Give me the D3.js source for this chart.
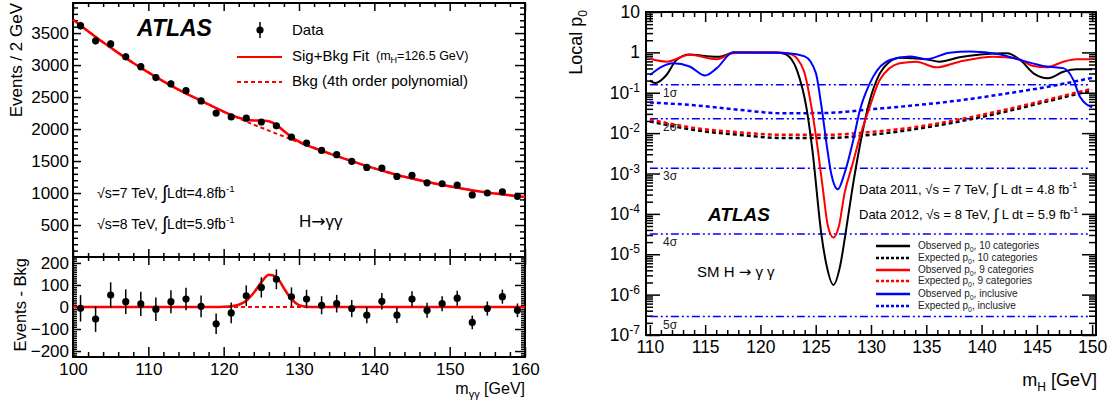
<!DOCTYPE html>
<html lang="en">
<head>
<meta charset="utf-8" />
<title>ATLAS H to diphoton: mass spectrum and local p0</title>
<script src="https://d3js.org/d3.v7.min.js"></script>
<style>
  body { margin: 0; background: #fff; }
  svg { display: block; font-family: "Liberation Sans", Arial, Helvetica, sans-serif; }
  .frame { fill: none; stroke: #000; stroke-width: 2px; }
  .tick line { stroke-width: 1.5px; }
</style>
</head>
<body>
<svg id="chart" width="1112" height="405"></svg>
<script>
// ------------------------------------------------------------
// data: left panel (events / 2 GeV)
// ------------------------------------------------------------
const massBins = [101, 103, 105, 107, 109, 111, 113, 115, 117, 119, 121, 123, 125, 127, 129,
                  131, 133, 135, 137, 139, 141, 143, 145, 147, 149, 151, 153, 155, 157, 159];
const events = [3615, 3380, 3330, 3130, 2975, 2805, 2705, 2600, 2440, 2250, 2190, 2170, 2110, 2050, 1875,
                1780, 1665, 1600, 1495, 1400, 1390, 1260, 1275, 1160, 1145, 1125, 970, 1000, 1020, 948];
const eventErr = [60, 58, 58, 56, 55, 53, 52, 51, 49, 47, 47, 47, 46, 45, 43,
                  42, 41, 40, 39, 37, 37, 36, 36, 34, 34, 34, 31, 32, 32, 31];
const residual = [-6, -55, 54, 24, 14, -10, 24, 36, 3, -76, -27, 51, 89, 126, 46,
                  36, 8, 15, -7, -37, 26, -37, 36, -15, 15, 40, -70, -7, 47, -15];

const fitMass = [100, 102, 104, 106, 108, 110, 112, 114, 116,
                 118, 119, 120, 121, 122, 123, 124, 125, 126, 127, 128, 129, 130, 131, 132, 133, 134,
                 136, 138, 140, 142, 144, 146, 148, 150, 152, 154, 156, 158, 160];
const bkgFit = [3710, 3530, 3355, 3190, 3032, 2885, 2746, 2617, 2497,
                2385, 2327, 2270, 2218, 2167, 2117, 2068, 2021, 1975, 1929, 1883, 1838, 1793, 1748, 1704, 1661, 1619,
                1537, 1460, 1386, 1317, 1253, 1200, 1150, 1105, 1062, 1025, 993, 964, 938];
const sigFit = [0, 0, 0, 0, 0, 0, 0, 0, 0,
                0, 0, 1, 3, 10, 28, 65, 112, 146, 136, 85, 36, 9, 1, 0, 0, 0,
                0, 0, 0, 0, 0, 0, 0, 0, 0, 0, 0, 0, 0];

// ------------------------------------------------------------
// data: right panel (local p0 vs m_H)
// ------------------------------------------------------------
const obs10Mass = [110, 110.5, 111.5, 112.4, 113.6, 115, 116.3, 117.6, 121.5, 122.3, 123.3, 124.2, 124.7,
                   125.5, 126, 126.6, 127.2, 127.7, 128.3, 129, 129.9, 130.8, 131.6, 132.6, 135, 136.2,
                   138, 139.9, 142.3, 143.5, 144.7, 146, 147.4, 148.6, 150];
const obs10P = [0.20, 0.174, 0.275, 0.646, 0.891, 0.813, 0.776, 1.0, 1.0, 0.89, 0.363, 0.037, 0.0038,
                3.3e-5, 5.0e-6, 1.74e-6, 5.0e-6, 3.3e-5, 3.98e-4, 0.005, 0.066, 0.302, 0.562, 0.741, 0.676, 0.589,
                0.759, 0.891, 0.955, 0.646, 0.302, 0.229, 0.331, 0.38, 0.38];

const obs9Mass = [110, 111.5, 113.6, 116.05, 117.5, 119, 121.8, 122.8, 123.9, 124.8, 125.2, 125.7, 126.1,
                  126.6, 127.1, 127.6, 128.3, 129, 129.9, 130.8, 132.6, 134.1, 135.9, 138, 141.1, 143.2,
                  144.7, 145.9, 147.4, 148.6, 150];
const obs9P = [0.692, 0.589, 0.871, 0.676, 0.955, 1.0, 1.0, 0.89, 0.363, 0.0214, 0.0038, 3.16e-4, 5.0e-5,
               2.6e-5, 5.0e-5, 3.16e-4, 0.00158, 0.00813, 0.0457, 0.209, 0.537, 0.589, 0.427, 0.589, 0.776, 0.708,
               0.457, 0.427, 0.589, 0.676, 0.676];

const obsIncMass = [110, 112.1, 113.6, 115, 116.05, 117.55, 122.5, 124, 125, 125.5, 126, 126.4, 127,
                    127.6, 128.4, 129, 129.6, 130.2, 131.7, 133.5, 135, 137.1, 138.95, 141.7, 143.5,
                    145.9, 147.4, 148.3, 148.9, 150];
const obsIncP = [0.275, 0.537, 0.447, 0.269, 0.407, 1.0, 0.955, 0.794, 0.316, 0.05, 0.005, 0.001, 4.07e-4,
                 0.001, 0.00676, 0.0372, 0.112, 0.251, 0.646, 0.794, 0.676, 0.98, 1.05, 0.891, 0.646,
                 0.447, 0.407, 0.209, 0.0794, 0.0437];

const expMass = [110, 114, 118, 122, 126, 130, 134, 138, 142, 146, 150];
const exp10P = [0.0195, 0.0120, 0.0091, 0.0076, 0.0076, 0.0091, 0.0126, 0.0195, 0.0331, 0.0617, 0.115];
const exp9P = [0.0219, 0.0135, 0.0105, 0.0091, 0.0091, 0.0107, 0.0141, 0.0219, 0.0372, 0.0676, 0.126];
const expIncP = [0.0575, 0.049, 0.038, 0.031, 0.0316, 0.0389, 0.049, 0.0646, 0.0933, 0.141, 0.234];

const sigmaP = [0.1587, 0.02275, 1.35e-3, 3.17e-5, 2.87e-7];
const sigmaLabels = ["1σ", "2σ", "3σ", "4σ", "5σ"];

// ------------------------------------------------------------
// setup
// ------------------------------------------------------------
const FONT = '"Liberation Sans", Arial, Helvetica, sans-serif';
const svg = d3.select("#chart");
svg.append("rect").attr("width", 1112).attr("height", 405).attr("fill", "#fff");

// add an axis, strip its domain path, set font
function addAxis(gen, transform, fontSize) {
  const g = svg.append("g").attr("transform", transform).call(gen);
  g.select(".domain").remove();
  g.attr("font-family", FONT).attr("font-size", fontSize || 10);
  g.selectAll(".tick text").attr("fill", "#000");
  return g;
}
const noLabel = () => "";
const intLabel = d3.format("d");
const stepRange = (a, b, s) => d3.range(a, b + s / 2, s);
const minorOf = (vals, majorStep) => vals.filter(v => Math.abs(v % majorStep) > 1e-6);

// ------------------------------------------------------------
// left panel scales
// ------------------------------------------------------------
const xM = d3.scaleLinear().domain([100, 160]).range([73, 525]);
const yEv = d3.scaleLinear().domain([0, 3970]).range([257, 3]);
const yRes = d3.scaleLinear().domain([-227, 227]).range([357, 257]);

// top panel ticks
addAxis(d3.axisLeft(yEv).tickValues(stepRange(500, 3500, 500)).tickSize(-8).tickPadding(4).tickFormat(intLabel), "translate(73,0)", 17);
addAxis(d3.axisLeft(yEv).tickValues(minorOf(stepRange(100, 3900, 100), 500)).tickSize(-5).tickFormat(noLabel), "translate(73,0)");
addAxis(d3.axisRight(yEv).tickValues(stepRange(500, 3500, 500)).tickSize(-10).tickFormat(noLabel), "translate(525,0)");
addAxis(d3.axisRight(yEv).tickValues(minorOf(stepRange(100, 3900, 100), 500)).tickSize(-5).tickFormat(noLabel), "translate(525,0)");
addAxis(d3.axisTop(xM).tickValues(stepRange(100, 160, 10)).tickSize(-8).tickFormat(noLabel), "translate(0,3)");
addAxis(d3.axisTop(xM).tickValues(minorOf(stepRange(100, 160, 2), 10)).tickSize(-4).tickFormat(noLabel), "translate(0,3)");
addAxis(d3.axisBottom(xM).tickValues(stepRange(100, 160, 10)).tickSize(-8).tickFormat(noLabel), "translate(0,257)");
addAxis(d3.axisBottom(xM).tickValues(minorOf(stepRange(100, 160, 2), 10)).tickSize(-4).tickFormat(noLabel), "translate(0,257)");

// bottom panel ticks
addAxis(d3.axisLeft(yRes).tickValues(stepRange(-200, 200, 100)).tickSize(-8).tickPadding(4).tickFormat(intLabel), "translate(73,0)", 17);
addAxis(d3.axisLeft(yRes).tickValues(minorOf(stepRange(-220, 220, 10), 100)).tickSize(-4).tickFormat(noLabel), "translate(73,0)");
addAxis(d3.axisRight(yRes).tickValues(stepRange(-200, 200, 100)).tickSize(-10).tickFormat(noLabel), "translate(525,0)");
addAxis(d3.axisRight(yRes).tickValues(minorOf(stepRange(-220, 220, 10), 100)).tickSize(-4).tickFormat(noLabel), "translate(525,0)");
addAxis(d3.axisBottom(xM).tickValues(stepRange(100, 160, 10)).tickSize(-10).tickPadding(6).tickFormat(intLabel), "translate(0,357)", 17);
addAxis(d3.axisBottom(xM).tickValues(minorOf(stepRange(100, 160, 2), 10)).tickSize(-5).tickFormat(noLabel), "translate(0,357)");
addAxis(d3.axisTop(xM).tickValues(stepRange(100, 160, 10)).tickSize(-8).tickFormat(noLabel), "translate(0,257)");
addAxis(d3.axisTop(xM).tickValues(minorOf(stepRange(100, 160, 2), 10)).tickSize(-4).tickFormat(noLabel), "translate(0,257)");

svg.append("rect").attr("class", "frame").attr("x", 73).attr("y", 3).attr("width", 452).attr("height", 254);
svg.append("rect").attr("class", "frame").attr("x", 73).attr("y", 257).attr("width", 452).attr("height", 100);

// fit curves
const fitPts = d3.zip(fitMass, bkgFit, sigFit);
const lineBkg = d3.line().x(d => xM(d[0])).y(d => yEv(d[1])).curve(d3.curveMonotoneX);
const lineTot = d3.line().x(d => xM(d[0])).y(d => yEv(d[1] + d[2])).curve(d3.curveMonotoneX);
const lineSig = d3.line().x(d => xM(d[0])).y(d => yRes(d[2])).curve(d3.curveMonotoneX);
const lineZero = d3.line().x(d => xM(d[0])).y(() => yRes(0));

svg.append("path").attr("d", lineBkg(fitPts)).attr("fill", "none").attr("stroke", "#f00")
  .attr("stroke-width", 2).attr("stroke-dasharray", "4,3");
svg.append("path").attr("d", lineTot(fitPts)).attr("fill", "none").attr("stroke", "#f00").attr("stroke-width", 2.5);
svg.append("path").attr("d", lineZero(fitPts)).attr("fill", "none").attr("stroke", "#f00")
  .attr("stroke-width", 2).attr("stroke-dasharray", "4,3");
svg.append("path").attr("d", lineSig(fitPts)).attr("fill", "none").attr("stroke", "#f00").attr("stroke-width", 2.5);

// data points
const pts = d3.zip(massBins, events, eventErr, residual);
const topPts = svg.append("g").selectAll("g").data(pts).enter().append("g");
topPts.append("line").attr("x1", d => xM(d[0])).attr("x2", d => xM(d[0]))
  .attr("y1", d => yEv(d[1] - d[2])).attr("y2", d => yEv(d[1] + d[2])).attr("stroke", "#000").attr("stroke-width", 1.5);
topPts.append("circle").attr("cx", d => xM(d[0])).attr("cy", d => yEv(d[1])).attr("r", 3.6).attr("fill", "#000");
const botPts = svg.append("g").selectAll("g").data(pts).enter().append("g");
botPts.append("line").attr("x1", d => xM(d[0])).attr("x2", d => xM(d[0]))
  .attr("y1", d => yRes(d[3] - d[2])).attr("y2", d => yRes(d[3] + d[2])).attr("stroke", "#000").attr("stroke-width", 1.5);
botPts.append("circle").attr("cx", d => xM(d[0])).attr("cy", d => yRes(d[3])).attr("r", 3.6).attr("fill", "#000");

// left panel texts
svg.append("text").attr("transform", "translate(22,3) rotate(-90)").attr("text-anchor", "end")
  .attr("font-size", 17).text("Events / 2 GeV");
svg.append("text").attr("transform", "translate(26,258) rotate(-90)").attr("text-anchor", "end")
  .attr("font-size", 16.5).text("Events - Bkg");
{
  const t = svg.append("text").attr("x", 525).attr("y", 394).attr("text-anchor", "end").attr("font-size", 16);
  t.append("tspan").text("m");
  t.append("tspan").attr("font-size", 11).attr("dy", 4).text("γγ");
  t.append("tspan").attr("dy", -4).text(" [GeV]");
}
svg.append("text").attr("x", 137).attr("y", 36).attr("font-size", 23).attr("font-weight", "bold")
  .attr("font-style", "italic").text("ATLAS");

// legend (left)
svg.append("line").attr("x1", 260).attr("x2", 260).attr("y1", 22).attr("y2", 38).attr("stroke", "#000").attr("stroke-width", 1.5);
svg.append("circle").attr("cx", 260).attr("cy", 30).attr("r", 3.6).attr("fill", "#000");
svg.append("text").attr("x", 292).attr("y", 35).attr("font-size", 15).text("Data");
svg.append("line").attr("x1", 237).attr("x2", 282).attr("y1", 57).attr("y2", 57).attr("stroke", "#f00").attr("stroke-width", 2);
svg.append("text").attr("x", 292).attr("y", 61).attr("font-size", 15).text("Sig+Bkg Fit");
{
  const t = svg.append("text").attr("x", 376).attr("y", 60).attr("font-size", 12.5);
  t.append("tspan").text("(m");
  t.append("tspan").attr("font-size", 9).attr("dy", 3).text("H");
  t.append("tspan").attr("dy", -3).text("=126.5 GeV)");
}
svg.append("line").attr("x1", 237).attr("x2", 282).attr("y1", 82).attr("y2", 82).attr("stroke", "#f00")
  .attr("stroke-width", 2).attr("stroke-dasharray", "4,3");
svg.append("text").attr("x", 292).attr("y", 86).attr("font-size", 15).text("Bkg (4th order polynomial)");

function lumiText(x, y, size, parts) {
  const t = svg.append("text").attr("x", x).attr("y", y).attr("font-size", size);
  t.append("tspan").text(parts[0]);
  t.append("tspan").attr("font-size", size * 1.35).attr("dy", 1).text("∫");
  t.append("tspan").attr("dy", -1).text(parts[1]);
  t.append("tspan").attr("font-size", size * 0.7).attr("dy", -6).text("-1");
  return t;
}
lumiText(97, 198, 14, ["√s=7 TeV, ", "Ldt=4.8fb"]);
lumiText(97, 229, 14, ["√s=8 TeV, ", "Ldt=5.9fb"]);
{
  const t = svg.append("text").attr("x", 299).attr("y", 227).attr("font-size", 17);
  t.append("tspan").text("H");
  t.append("tspan").attr("font-family", "DejaVu Sans").attr("font-size", 17).text("→");
  t.append("tspan").text("γγ");
}

// ------------------------------------------------------------
// right panel
// ------------------------------------------------------------
const xH = d3.scaleLinear().domain([109.65, 150.35]).range([646, 1096]);
const yP = d3.scaleLog().domain([1e-7, 10]).range([335, 12]);

const decades = [1e-7, 1e-6, 1e-5, 1e-4, 1e-3, 1e-2, 1e-1, 1, 10];
const minorLog = [];
decades.slice(0, -1).forEach(dv => { for (let k = 2; k <= 9; k++) minorLog.push(dv * k); });

const yLab = addAxis(d3.axisLeft(yP).tickValues(decades).tickSize(-14).tickPadding(6), "translate(646,0)", 17.5);
yLab.selectAll(".tick text").each(function (d) {
  const e = Math.round(Math.log10(d));
  const t = d3.select(this).text("");
  if (e === 0) t.text("1");
  else if (e === 1) t.text("10");
  else {
    t.append("tspan").text("10");
    t.append("tspan").attr("font-size", 12).attr("dy", -7).text(String(e));
  }
});
addAxis(d3.axisLeft(yP).tickValues(minorLog).tickSize(-7).tickFormat(noLabel), "translate(646,0)");
addAxis(d3.axisRight(yP).tickValues(decades).tickSize(-14).tickFormat(noLabel), "translate(1096,0)");
addAxis(d3.axisRight(yP).tickValues(minorLog).tickSize(-7).tickFormat(noLabel), "translate(1096,0)");
addAxis(d3.axisBottom(xH).tickValues(stepRange(110, 150, 5)).tickSize(-10).tickPadding(6).tickFormat(intLabel), "translate(0,335)", 17.5);
addAxis(d3.axisBottom(xH).tickValues(minorOf(stepRange(110, 150, 1), 5)).tickSize(-5).tickFormat(noLabel), "translate(0,335)");
addAxis(d3.axisTop(xH).tickValues(stepRange(110, 150, 5)).tickSize(-10).tickFormat(noLabel), "translate(0,12)");
addAxis(d3.axisTop(xH).tickValues(minorOf(stepRange(110, 150, 1), 5)).tickSize(-5).tickFormat(noLabel), "translate(0,12)");
svg.append("rect").attr("class", "frame").attr("x", 646).attr("y", 12).attr("width", 450).attr("height", 323);

// sigma reference lines
sigmaP.forEach((p, i) => {
  svg.append("line").attr("x1", xH(110)).attr("x2", xH(149.7)).attr("y1", yP(p)).attr("y2", yP(p))
    .attr("stroke", "#00f").attr("stroke-width", 1.5).attr("stroke-dasharray", "8,3,2,3,2,3");
  svg.append("text").attr("x", 663).attr("y", yP(p) + 12).attr("font-size", 12).attr("fill", "#222")
    .text(sigmaLabels[i]);
});

const lineP = d3.line().x(d => xH(d[0])).y(d => yP(d[1])).curve(d3.curveMonotoneX);
const curves = [
  { m: expMass, p: exp10P, c: "#000", dash: "4,3" },
  { m: expMass, p: exp9P, c: "#f00", dash: "4,3" },
  { m: expMass, p: expIncP, c: "#00f", dash: "4,3" },
  { m: obs10Mass, p: obs10P, c: "#000", dash: null },
  { m: obs9Mass, p: obs9P, c: "#f00", dash: null },
  { m: obsIncMass, p: obsIncP, c: "#00f", dash: null }
];
curves.forEach(cv => {
  svg.append("path").attr("d", lineP(d3.zip(cv.m, cv.p))).attr("fill", "none").attr("stroke", cv.c)
    .attr("stroke-width", cv.dash ? 2.5 : 2).attr("stroke-dasharray", cv.dash);
});

// right panel texts
{
  const t = svg.append("text").attr("transform", "translate(582,10) rotate(-90)").attr("text-anchor", "end")
    .attr("font-size", 18);
  t.append("tspan").text("Local p");
  t.append("tspan").attr("font-size", 12).attr("dy", 5).text("0");
}
{
  const t = svg.append("text").attr("x", 1097).attr("y", 386).attr("text-anchor", "end").attr("font-size", 18);
  t.append("tspan").text("m");
  t.append("tspan").attr("font-size", 12).attr("dy", 5).text("H");
  t.append("tspan").attr("dy", -5).text(" [GeV]");
}
svg.append("text").attr("x", 708).attr("y", 221).attr("font-size", 19).attr("font-weight", "bold")
  .attr("font-style", "italic").text("ATLAS");
{
  const t = svg.append("text").attr("x", 697).attr("y", 277).attr("font-size", 15);
  t.append("tspan").text("SM H ");
  t.append("tspan").attr("font-family", "DejaVu Sans").attr("font-size", 15).text("→");
  t.append("tspan").text(" γ γ");
}

function dataText(y, parts) {
  const t = svg.append("text").attr("x", 859).attr("y", y).attr("font-size", 13);
  t.append("tspan").text(parts[0]);
  t.append("tspan").attr("font-size", 16).attr("dy", 1).text("∫");
  t.append("tspan").attr("dy", -1).text(parts[1]);
  t.append("tspan").attr("font-size", 9).attr("dy", -6).text("-1");
}
dataText(194, ["Data 2011, √s = 7 TeV, ", " L dt = 4.8 fb"]);
dataText(219, ["Data 2012, √s = 8 TeV, ", " L dt = 5.9 fb"]);

// legend (right)
const legRows = [
  { c: "#000", dash: null, a: "Observed p", b: ", 10 categories" },
  { c: "#000", dash: "3,2", a: "Expected p", b: ", 10 categories" },
  { c: "#f00", dash: null, a: "Observed p", b: ", 9 categories" },
  { c: "#f00", dash: "3,2", a: "Expected p", b: ", 9 categories" },
  { c: "#00f", dash: null, a: "Observed p", b: ", inclusive" },
  { c: "#00f", dash: "3,2", a: "Expected p", b: ", inclusive" }
];
const legY = [246, 258, 270, 281, 294, 306];
legRows.forEach((r, i) => {
  svg.append("line").attr("x1", 876).attr("x2", 910).attr("y1", legY[i]).attr("y2", legY[i])
    .attr("stroke", r.c).attr("stroke-width", 2.5).attr("stroke-dasharray", r.dash);
  const t = svg.append("text").attr("x", 918).attr("y", legY[i] + 3).attr("font-size", 10).attr("fill", "#222");
  t.append("tspan").text(r.a);
  t.append("tspan").attr("font-size", 7).attr("dy", 3).text("0");
  t.append("tspan").attr("dy", -3).text(r.b);
});
</script>
</body>
</html>
